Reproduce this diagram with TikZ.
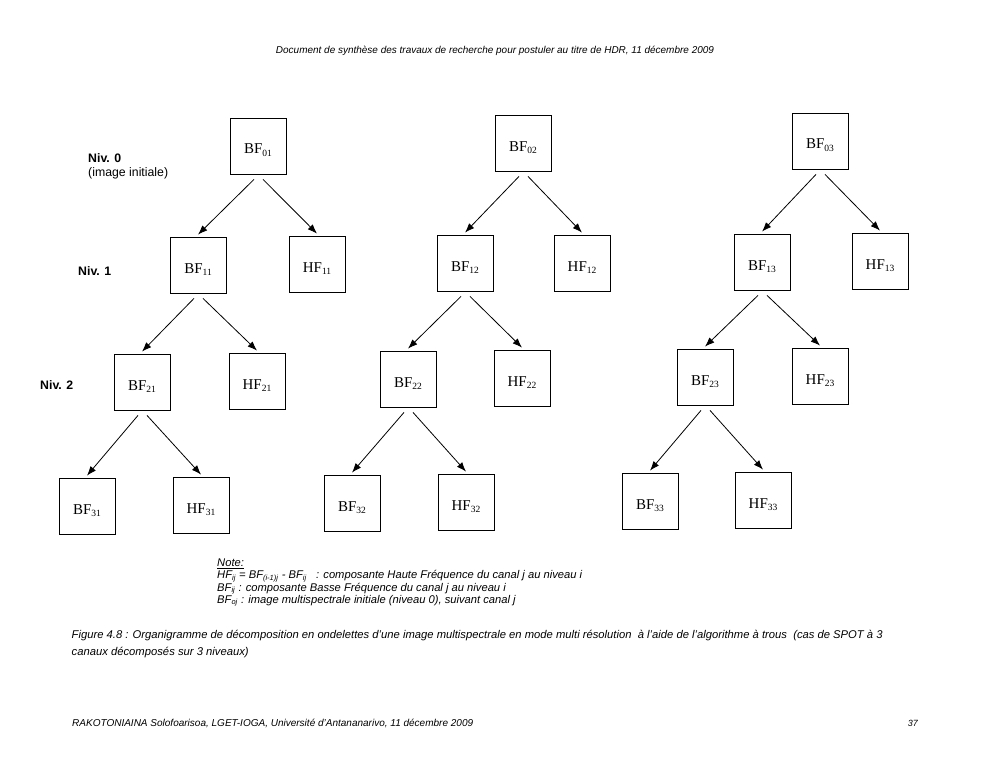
\documentclass[tikz,border=0pt]{standalone}
\usepackage{fontspec}
\setmainfont{Liberation Serif}
\setsansfont{Liberation Sans}
\usepackage{graphicx}
\usetikzlibrary{arrows.meta}
\tikzset{
  box/.style={draw, line width=0.8pt, minimum width=56pt, minimum height=56pt, inner sep=0pt,
    font=\rmfamily\fontsize{15}{17}\selectfont},
  arr/.style={line width=0.8pt, -{Latex[length=9.5pt,width=7pt]}},
  niv/.style={anchor=base west, inner sep=0pt, font=\sffamily\bfseries\fontsize{12.3}{14}\selectfont},
  txt/.style={anchor=base west, inner sep=0pt, font=\sffamily\itshape},
}
\newcommand\bx[2]{\raisebox{-8pt}[5pt][5pt]{#1\raisebox{-2pt}{\fontsize{9.5}{10}\selectfont #2}}\hspace{9pt}}
\newsavebox\nbox
\newcommand\notefont{\sffamily\itshape\fontsize{9}{11}\selectfont}
\newcommand\linetwo{HF\textsubscript{ij} = BF\textsubscript{(i-1)j} - BF\textsubscript{ij} \ \ : composante Haute Fréquence du canal j au niveau i}
\begin{document}
\sbox\nbox{\notefont\linetwo}%
\edef\nw{\the\wd\nbox}%
\edef\nscale{\fpeval{365pt/\nw}}%
\begin{tikzpicture}[x=1pt,y=-1pt]
\useasboundingbox[fill=white] (0,0) rectangle (990,765);
% header
\node[inner sep=0pt, anchor=base, font=\sffamily\itshape] (hdr) at (495,53.5)
  {\resizebox{438pt}{!}{\fontsize{9}{11}\selectfont Document de synthèse des travaux de recherche pour postuler au titre de HDR, 11 décembre 2009}};
% level labels
\node[niv] (n0) at (88,162) {Niv. 0};
\node[txt, font=\sffamily\fontsize{12.3}{14}\selectfont] (n0b) at (88,176) {(image initiale)};
\node[niv] (n1) at (78,275) {Niv. 1};
\node[niv] (n2) at (40,389) {Niv. 2};
% tree 1
\node[box] (bf01) at (258,146) {\bx{BF}{01}};
\node[box] (bf11) at (198,265) {\bx{BF}{11}};
\node[box] (hf11) at (317,264) {\bx{HF}{11}};
\node[box] (bf21) at (142,382) {\bx{BF}{21}};
\node[box] (hf21) at (257,381) {\bx{HF}{21}};
\node[box] (bf31) at (87,506) {\bx{BF}{31}};
\node[box] (hf31) at (201,505) {\bx{HF}{31}};
% tree 2
\node[box] (bf02) at (523,143) {\bx{BF}{02}};
\node[box] (bf12) at (465,263) {\bx{BF}{12}};
\node[box] (hf12) at (582,263) {\bx{HF}{12}};
\node[box] (bf22) at (408,379) {\bx{BF}{22}};
\node[box] (hf22) at (522,378) {\bx{HF}{22}};
\node[box] (bf32) at (352,503) {\bx{BF}{32}};
\node[box] (hf32) at (466,502) {\bx{HF}{32}};
% tree 3
\node[box] (bf03) at (820,141) {\bx{BF}{03}};
\node[box] (bf13) at (762,262) {\bx{BF}{13}};
\node[box] (hf13) at (880,261) {\bx{HF}{13}};
\node[box] (bf23) at (705,377) {\bx{BF}{23}};
\node[box] (hf23) at (820,376) {\bx{HF}{23}};
\node[box] (bf33) at (650,501) {\bx{BF}{33}};
\node[box] (hf33) at (763,500) {\bx{HF}{33}};
% arrows
\foreach \p/\l/\r in {bf01/bf11/hf11, bf11/bf21/hf21, bf21/bf31/hf31,
                      bf02/bf12/hf12, bf12/bf22/hf22, bf22/bf32/hf32,
                      bf03/bf13/hf13, bf13/bf23/hf23, bf23/bf33/hf33}{
  \draw[arr] ([xshift=-4pt,yshift=-5pt]\p.south) -- ([yshift=2pt]\l.north);
  \draw[arr] ([xshift=5pt,yshift=-5pt]\p.south) -- ([yshift=2pt]\r.north);
}
% note
\node[txt] (note) at (217,566) {\scalebox{\nscale}{\notefont\underline{Note:}}};
\node[txt] (l1) at (217,578.5) {\scalebox{\nscale}{\notefont\linetwo}};
\node[txt] (l2) at (217,591) {\scalebox{\nscale}{\notefont BF\textsubscript{ij} : composante Basse Fréquence du canal j au niveau i}};
\node[txt] (l3) at (217,603) {\scalebox{\nscale}{\notefont BF\textsubscript{oj} : image multispectrale initiale (niveau 0), suivant canal j}};
% caption
\node[txt] (cap1) at (71.5,638) {\resizebox{811pt}{!}{\fontsize{10.5}{12}\selectfont Figure 4.8 : Organigramme de décomposition en ondelettes d’une image multispectrale en mode multi résolution \ à l’aide de l’algorithme à trous \ (cas de SPOT à 3}};
\node[txt] (cap2) at (71.5,655.5) {\resizebox{177pt}{!}{\fontsize{10.5}{12}\selectfont canaux décomposés sur 3 niveaux)}};
% footer
\node[txt] (foot) at (72,726.5) {\resizebox{401pt}{!}{\fontsize{9}{11}\selectfont RAKOTONIAINA Solofoarisoa, LGET-IOGA, Université d’Antananarivo, 11 décembre 2009}};
\node[txt, anchor=base east] (pg) at (918,726.5) {\fontsize{9}{11}\selectfont 37};
\end{tikzpicture}
\end{document}
